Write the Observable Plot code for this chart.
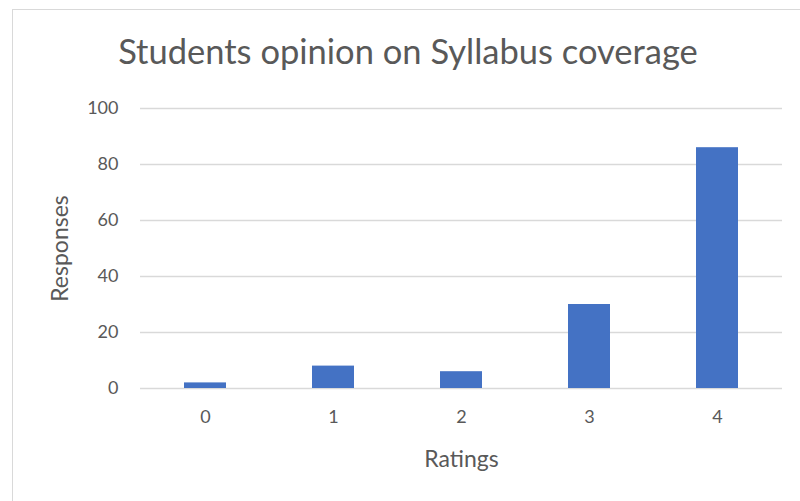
<!DOCTYPE html>
<html>
<head>
<meta charset="utf-8">
<script src="https://cdn.jsdelivr.net/npm/d3@7"></script>
<script src="https://cdn.jsdelivr.net/npm/@observablehq/plot@0.6"></script>
<style>
  html, body { margin: 0; padding: 0; background: #fff; }
  #wrap { position: relative; width: 800px; height: 501px; overflow: hidden; }
  #frame { position: absolute; left: 12px; top: 9px; width: 800px; height: 600px; border: 1px solid #d9d9d9; box-sizing: border-box; }
  #title { position: absolute; left: 0; top: 30px; width: 816px; text-align: center; font-family: Lato, "Open Sans", sans-serif; font-size: 34.5px; color: #595959; }
  #chart { position: absolute; left: 0; top: 0; }
</style>
</head>
<body>
<div id="wrap">
  <div id="frame"></div>
  <div id="title">Students opinion on Syllabus coverage</div>
  <div id="chart"></div>
</div>
<script>
const ratings = ["0", "1", "2", "3", "4"];
const responses = [2, 8, 6, 30, 86];
const yTicks = [0, 20, 40, 60, 80, 100];

const data = ratings.map((r, i) => ({rating: r, value: responses[i]}));

const chart = Plot.plot({
  width: 800,
  height: 501,
  marginLeft: 140,
  marginRight: 18,
  marginTop: 108,
  marginBottom: 113,
  style: { fontFamily: "Lato, 'Open Sans', sans-serif", fontSize: "18px", color: "#595959", background: "transparent" },
  x: { domain: ratings, paddingInner: 0.67, paddingOuter: 0.335, label: null },
  y: { domain: [0, 100], label: null },
  marks: [
    Plot.gridY(yTicks, { stroke: "#d9d9d9", strokeOpacity: 1, strokeWidth: 1.3 }),
    Plot.barY(data, { x: "rating", y: "value", fill: "#4472c4" }),
    Plot.axisY(yTicks, { tickSize: 0, tickPadding: 22, fontSize: 18, fill: "#595959", label: null }),
    Plot.axisX({ tickSize: 0, tickPadding: 22, fontSize: 18, fill: "#595959", label: null }),
    Plot.text(["Ratings"], { frameAnchor: "bottom", dy: 78, fontSize: 23, fill: "#595959" }),
    Plot.text(["Responses"], { frameAnchor: "left", textAnchor: "middle", dx: -80, rotate: -90, fontSize: 23, fill: "#595959" })
  ]
});
document.getElementById("chart").appendChild(chart);
</script>
</body>
</html>
